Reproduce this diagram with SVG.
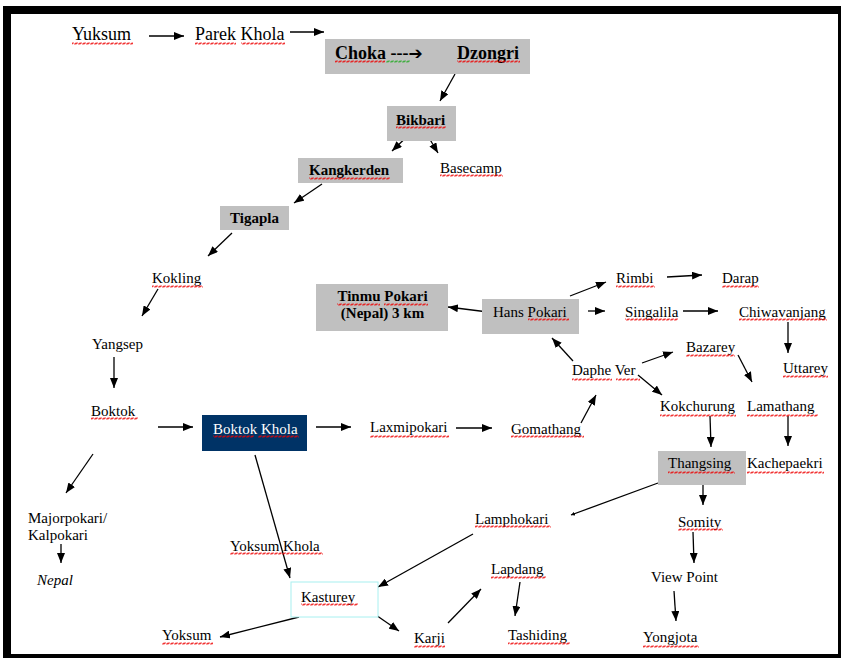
<svg xmlns="http://www.w3.org/2000/svg" width="841" height="658" viewBox="0 0 841 658">
<style>
text{font-family:"Liberation Serif","Times New Roman",serif;font-size:15px;fill:#000}
.big{font-size:18px}
.b{font-weight:bold}
.w{fill:#fff}
.box{fill:#c0c0c0}
.ln{stroke:#000;stroke-width:1.3;fill:none}
.a{marker-end:url(#ah)}
.sq{fill:url(#sqr)}
.sqg{fill:url(#sqg)}
</style>
<defs>
<marker id="ah" markerWidth="10" markerHeight="8" refX="10" refY="4" orient="auto" markerUnits="userSpaceOnUse">
<path d="M0,0 L10,4 L0,8 z" fill="#000"/>
</marker>
<marker id="ahs" markerWidth="4" markerHeight="4" refX="4" refY="2" orient="auto" markerUnits="userSpaceOnUse">
<path d="M0,0 L4,2 L0,4 z" fill="#000"/>
</marker>
<pattern id="sqr" width="4" height="3" patternUnits="userSpaceOnUse">
<path d="M0,2.5 L1,0.5 L3,2.5 L4,0.5" stroke="#e00" stroke-width="0.8" fill="none"/>
</pattern>
<pattern id="sqg" width="4" height="3" patternUnits="userSpaceOnUse">
<path d="M0,2.5 L1,0.5 L3,2.5 L4,0.5" stroke="#2a2" stroke-width="0.8" fill="none"/>
</pattern>
</defs>
<rect x="0" y="0" width="841" height="658" fill="#fff"/>
<rect x="3" y="6" width="838" height="652" fill="#000"/>
<rect x="11" y="14" width="827" height="640" fill="#fff"/>

<g id="connectors">
<line class="ln a" x1="149" y1="36" x2="184" y2="36"/>
<line class="ln a" x1="290" y1="32" x2="324" y2="32"/>
<line class="ln a" x1="455" y1="74" x2="440" y2="101"/>
<line class="ln a" x1="417" y1="127" x2="392" y2="151"/>
<line class="ln a" x1="422" y1="126" x2="438" y2="153"/>
<line class="ln a" x1="322" y1="184" x2="294" y2="203"/>
<line class="ln a" x1="232" y1="233" x2="208" y2="256"/>
<line class="ln a" x1="158" y1="289" x2="142" y2="316"/>
<line class="ln a" x1="114" y1="357" x2="114" y2="388"/>
<line class="ln a" x1="158" y1="427" x2="193" y2="427"/>
<line class="ln a" x1="93" y1="454" x2="66" y2="493"/>
<line class="ln a" x1="61" y1="544" x2="61" y2="563"/>
<line class="ln a" x1="316" y1="427" x2="351" y2="427"/>
<line class="ln a" x1="456" y1="428" x2="492" y2="428"/>
<line class="ln a" x1="581" y1="423" x2="596" y2="395"/>
<line class="ln a" x1="573" y1="361" x2="552" y2="338"/>
<line class="ln a" x1="642" y1="363" x2="673" y2="352"/>
<line class="ln a" x1="638" y1="375" x2="662" y2="395"/>
<line class="ln a" x1="738" y1="355" x2="752" y2="382"/>
<line class="ln a" x1="488" y1="312" x2="448" y2="307"/>
<line class="ln a" x1="570" y1="296" x2="606" y2="282"/>
<line class="ln a" x1="667" y1="277" x2="702" y2="275"/>
<line class="ln a" x1="588" y1="311" x2="605" y2="311"/>
<line class="ln a" x1="683" y1="311" x2="718" y2="311"/>
<line class="ln a" x1="788" y1="322" x2="788" y2="353"/>
<line class="ln a" x1="710" y1="416" x2="711" y2="447"/>
<line class="ln a" x1="788" y1="416" x2="788" y2="446"/>
<line class="ln a" x1="703" y1="485" x2="703" y2="505"/>
<line class="ln a" x1="693" y1="532" x2="694" y2="563"/>
<line class="ln a" x1="674" y1="591" x2="676" y2="621"/>
<line class="ln" x1="658" y1="483" x2="571" y2="515" marker-end="url(#ahs)"/>
<line class="ln a" x1="473" y1="534" x2="378" y2="587"/>
<line class="ln a" x1="255" y1="455" x2="290" y2="578"/>
<line class="ln a" x1="299" y1="617" x2="220" y2="637"/>
<line class="ln a" x1="373" y1="613" x2="399" y2="631"/>
<line class="ln a" x1="448" y1="623" x2="481" y2="589"/>
<line class="ln a" x1="520" y1="582" x2="515" y2="616"/>
</g>

<g id="yuksum"><text class="big" x="72" y="40">Yuksum</text></g>
<g id="parek-khola"><text class="big" x="195" y="40">Parek Khola</text></g>
<g id="choka-dzongri">
<rect class="box" x="325" y="39" width="205" height="35"/>
<text class="big b" x="335" y="59">Choka ---<tspan font-family="DejaVu Sans, sans-serif" font-size="17">➔</tspan></text>
<text class="big b" x="457" y="59">Dzongri</text>
</g>
<g id="bikbari">
<rect class="box" x="387" y="106" width="69" height="35"/>
<text class="b" x="396" y="125">Bikbari</text>
</g>
<g id="kangkerden">
<rect class="box" x="298" y="158" width="105" height="25"/>
<text class="b" x="309" y="175">Kangkerden</text>
</g>
<g id="basecamp"><text x="440" y="173">Basecamp</text></g>
<g id="tigapla">
<rect class="box" x="220" y="206" width="69" height="24"/>
<text class="b" x="230" y="223">Tigapla</text>
</g>
<g id="kokling"><text x="152" y="283">Kokling</text></g>
<g id="yangsep"><text x="92" y="349">Yangsep</text></g>
<g id="boktok"><text x="91" y="416">Boktok</text></g>
<g id="majorpokari">
<text x="28" y="523">Majorpokari/</text>
<text x="28" y="540">Kalpokari</text>
</g>
<g id="nepal"><text x="37" y="585" font-style="italic">Nepal</text></g>
<g id="boktok-khola">
<rect x="202" y="415" width="105" height="36" fill="#003366"/>
<text class="w" x="213" y="434">Boktok Khola</text>
</g>
<g id="laxmipokari"><text x="370" y="432">Laxmipokari</text></g>
<g id="gomathang"><text x="511" y="434">Gomathang</text></g>
<g id="tinmu-pokari">
<rect class="box" x="316" y="284" width="132" height="47"/>
<text class="b" x="382.5" y="301" text-anchor="middle">Tinmu Pokari</text>
<text class="b" x="382.5" y="318" text-anchor="middle">(Nepal) 3 km</text>
</g>
<g id="hans-pokari">
<rect class="box" x="482" y="299" width="97" height="35"/>
<text x="493" y="317">Hans Pokari</text>
</g>
<g id="rimbi"><text x="616" y="283">Rimbi</text></g>
<g id="darap"><text x="722" y="283">Darap</text></g>
<g id="singalila"><text x="625" y="317">Singalila</text></g>
<g id="chiwavanjang"><text x="739" y="317">Chiwavanjang</text></g>
<g id="uttarey"><text x="783" y="373">Uttarey</text></g>
<g id="bazarey"><text x="686" y="352">Bazarey</text></g>
<g id="daphe-ver"><text x="572" y="375">Daphe Ver</text></g>
<g id="kokchurung"><text x="660" y="411">Kokchurung</text></g>
<g id="lamathang"><text x="747" y="411">Lamathang</text></g>
<g id="thangsing">
<rect class="box" x="658" y="451" width="88" height="34"/>
<text x="668" y="468">Thangsing</text>
</g>
<g id="kachepaekri"><text x="747" y="468">Kachepaekri</text></g>
<g id="lamphokari"><text x="475" y="524">Lamphokari</text></g>
<g id="somity"><text x="678" y="527">Somity</text></g>
<g id="view-point"><text x="651" y="582">View Point</text></g>
<g id="yongjota"><text x="643" y="642">Yongjota</text></g>
<g id="lapdang"><text x="491" y="574">Lapdang</text></g>
<g id="tashiding"><text x="508" y="640">Tashiding</text></g>
<g id="karji"><text x="414" y="643">Karji</text></g>
<g id="yoksum-khola"><text x="230" y="551">Yoksum Khola</text></g>
<g id="kasturey">
<rect x="291" y="582" width="87" height="35" fill="#fff" stroke="#a8f0f0" stroke-width="1"/>
<text x="301" y="602">Kasturey</text>
</g>
<g id="yoksum"><text x="162" y="640">Yoksum</text></g>

<g id="spellcheck">
<rect class="sq" x="72" y="42" width="61" height="3"/>
<rect class="sq" x="195" y="42" width="41" height="3"/>
<rect class="sq" x="241" y="42" width="44" height="3"/>
<rect class="sq" x="335" y="60" width="50" height="3"/>
<rect class="sqg" x="386" y="60" width="24" height="3"/>
<rect class="sq" x="457" y="60" width="63" height="3"/>
<rect class="sq" x="396" y="126" width="50" height="3"/>
<rect class="sq" x="309" y="177" width="81" height="3"/>
<rect class="sq" x="440" y="174" width="63" height="3"/>
<rect class="sq" x="152" y="285" width="51" height="3"/>
<rect class="sq" x="337" y="303" width="43" height="3"/>
<rect class="sq" x="384" y="303" width="44" height="3"/>
<rect class="sq" x="528" y="318" width="41" height="3"/>
<rect class="sq" x="616" y="285" width="39" height="3"/>
<rect class="sq" x="722" y="285" width="37" height="3"/>
<rect class="sq" x="625" y="318" width="53" height="3"/>
<rect class="sq" x="739" y="318" width="88" height="3"/>
<rect class="sq" x="783" y="375" width="45" height="3"/>
<rect class="sq" x="686" y="354" width="49" height="3"/>
<rect class="sq" x="572" y="378" width="40" height="3"/>
<rect class="sq" x="616" y="378" width="24" height="3"/>
<rect class="sq" x="660" y="414" width="76" height="3"/>
<rect class="sq" x="747" y="414" width="71" height="3"/>
<rect class="sq" x="668" y="471" width="67" height="3"/>
<rect class="sq" x="747" y="471" width="77" height="3"/>
<rect class="sq" x="511" y="435" width="73" height="3"/>
<rect class="sq" x="370" y="435" width="79" height="3"/>
<rect class="sq" x="91" y="417" width="47" height="3"/>
<rect class="sq" x="213" y="435" width="41" height="3"/>
<rect class="sq" x="258" y="435" width="41" height="3"/>
<rect class="sq" x="230" y="552" width="93" height="3"/>
<rect class="sq" x="475" y="525" width="76" height="3"/>
<rect class="sq" x="678" y="528" width="45" height="3"/>
<rect class="sq" x="491" y="576" width="55" height="3"/>
<rect class="sq" x="301" y="603" width="57" height="3"/>
<rect class="sq" x="162" y="642" width="51" height="3"/>
<rect class="sq" x="414" y="645" width="31" height="3"/>
<rect class="sq" x="508" y="642" width="62" height="3"/>
<rect class="sq" x="643" y="645" width="56" height="3"/>
</g>
</svg>
